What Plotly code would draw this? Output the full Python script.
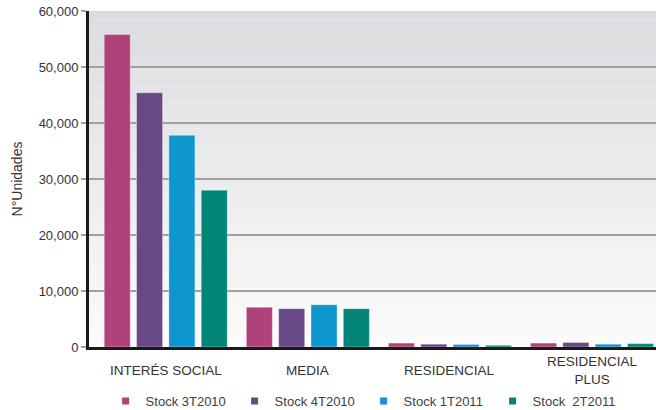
import plotly.graph_objects as go

categories = ["INTERÉS SOCIAL", "MEDIA", "RESIDENCIAL", "RESIDENCIAL<br>PLUS"]
series_names = ["Stock 3T2010", "Stock 4T2010", "Stock 1T2011", "Stock  2T2011"]
stock_3t2010 = [55800, 7100, 700, 700]
stock_4t2010 = [45400, 6850, 500, 800]
stock_1t2011 = [37800, 7550, 450, 500]
stock_2t2011 = [28000, 6850, 300, 600]
y_ticks = [0, 10000, 20000, 30000, 40000, 50000, 60000]
y_ticktext = ["0", "10,000", "20,000", "30,000", "40,000", "50,000", "60,000"]

series_values = [stock_3t2010, stock_4t2010, stock_1t2011, stock_2t2011]
colors = ["#b0417a", "#684886", "#0e96cf", "#008578"]

FONT = "Liberation Sans, Arial, sans-serif"
TXT = "#333333"

fig = go.Figure()
for name, vals, col in zip(series_names, series_values, colors):
    fig.add_trace(go.Bar(
        x=categories, y=vals, name=name,
        marker=dict(color=col, line=dict(color="rgba(255,255,255,0.35)", width=1)),
        showlegend=False,
    ))
    fig.add_trace(go.Scatter(
        x=[None], y=[None], mode="markers", name=name,
        marker=dict(symbol="square", size=7, color=col),
        showlegend=True,
    ))

# background gradient (style only)
n = 40
top = (218, 220, 223)
bot = (251, 251, 251)
shapes = []
for i in range(n):
    t = i / (n - 1)
    c = tuple(int(round(bot[k] + (top[k] - bot[k]) * t)) for k in range(3))
    shapes.append(dict(type="rect", xref="paper", yref="paper",
                       x0=0, x1=1, y0=i / n, y1=(i + 1) / n,
                       fillcolor="rgb(%d,%d,%d)" % c, line=dict(width=0),
                       layer="below"))

annotations = []
for c in categories:
    annotations.append(dict(x=c, y=0, xref="x", yref="paper", text=c,
                            showarrow=False, yanchor="middle", yshift=-23,
                            font=dict(family=FONT, size=13.5, color=TXT)))

fig.update_layout(
    width=656, height=410,
    margin=dict(l=89, r=0, t=11, b=63),
    paper_bgcolor="white", plot_bgcolor="white",
    barmode="group", bargap=0.09, bargroupgap=0.195,
    font=dict(family=FONT, size=13, color=TXT),
    shapes=shapes,
    annotations=annotations,
    showlegend=True,
    legend=dict(orientation="h", xref="container", yref="container",
                x=0.161, y=0.022, xanchor="left", yanchor="middle",
                font=dict(family=FONT, size=13, color="#404040"),
                itemwidth=30, entrywidth=84, entrywidthmode="pixels",
                tracegroupgap=0,
                bgcolor="rgba(0,0,0,0)"),
    xaxis=dict(type="category", range=[-0.54, 3.45], showticklabels=False,
               showgrid=False, showline=True, linecolor="#1a1a1a", linewidth=3,
               ticks="", zeroline=False, fixedrange=True),
    yaxis=dict(range=[0, 60000], tickvals=y_ticks, ticktext=y_ticktext,
               showgrid=True, gridcolor="#a0a0a0", gridwidth=2,
               showline=True, linecolor="#1a1a1a", linewidth=3,
               ticks="outside", ticklen=5, tickcolor="#a0a0a0", tickwidth=2,
               zeroline=False,
               tickfont=dict(family=FONT, size=13, color=TXT),
               title=dict(text="N°Unidades", standoff=13,
                          font=dict(family=FONT, size=14, color=TXT))),
)

fig.write_html("out.html")
